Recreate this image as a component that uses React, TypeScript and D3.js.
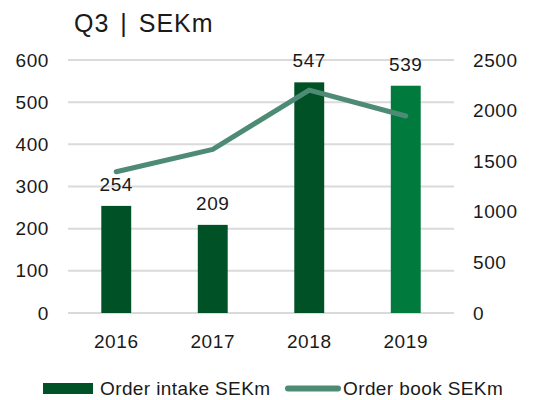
import React from 'react';
import * as d3 from 'd3';

const years = ['2016', '2017', '2018', '2019'];
const orderIntake = [254, 209, 547, 539];
const orderBook = [1396, 1617, 2203, 1947];
const leftTicks = [0, 100, 200, 300, 400, 500, 600];
const rightTicks = [0, 500, 1000, 1500, 2000, 2500];
const barColors = ['#005226', '#005226', '#005226', '#007A3D'];

const W = 533;
const H = 400;
const FONT = '"Liberation Sans", Arial, sans-serif';

export default function App() {
  const x = d3.scaleBand<string>().domain(years).range([68, 454]).paddingInner(0.69).paddingOuter(0.345);
  const yL = d3.scaleLinear().domain([0, 600]).range([313, 60]);
  const yR = d3.scaleLinear().domain([0, 2500]).range([313, 60]);
  const cx = (d: string) => (x(d) ?? 0) + x.bandwidth() / 2;

  const line = d3
    .line<number>()
    .x((_, i) => cx(years[i]))
    .y((v) => yR(v));

  return (
    <svg width={W} height={H} style={{ position: 'absolute', left: 0, top: 0 }} fontFamily={FONT}>
      <rect width={W} height={H} fill="#fff" />
      <text x={74} y={32} fontSize={25} letterSpacing={1} wordSpacing={3} fill="#1a1a1a">
        Q3 | SEKm
      </text>

      {leftTicks.map((t) => (
        <g key={t}>
          <line x1={68} x2={454} y1={yL(t)} y2={yL(t)} stroke="#dadada" strokeWidth={2} />
          <text x={49} y={yL(t)} dy="0.35em" textAnchor="end" fontSize={19} letterSpacing={0.6} fill="#1a1a1a">
            {t}
          </text>
        </g>
      ))}
      {rightTicks.map((t) => (
        <text key={t} x={473} y={yR(t)} dy="0.35em" fontSize={19} letterSpacing={0.6} fill="#1a1a1a">
          {t}
        </text>
      ))}

      {years.map((yr, i) => (
        <g key={yr}>
          <rect
            x={x(yr)}
            y={yL(orderIntake[i])}
            width={x.bandwidth()}
            height={yL(0) - yL(orderIntake[i])}
            fill={barColors[i]}
          />
          <text x={cx(yr)} y={yL(orderIntake[i]) - 15} textAnchor="middle" fontSize={19} letterSpacing={0.6} fill="#1a1a1a">
            {orderIntake[i]}
          </text>
          <text x={cx(yr)} y={348} textAnchor="middle" fontSize={19} letterSpacing={0.6} fill="#1a1a1a">
            {yr}
          </text>
        </g>
      ))}

      <path
        d={line(orderBook) ?? ''}
        fill="none"
        stroke="#4E8B74"
        strokeWidth={5}
        strokeLinecap="round"
        strokeLinejoin="round"
      />

      <g fontSize={19} letterSpacing={0.4} fill="#1a1a1a">
        <rect x={43} y={383} width={50} height={11} fill="#005226" />
        <text x={100} y={395}>Order intake SEKm</text>
        <line x1={288} x2={338} y1={388.5} y2={388.5} stroke="#4E8B74" strokeWidth={6} strokeLinecap="round" />
        <text x={343} y={395}>Order book SEKm</text>
      </g>
    </svg>
  );
}
